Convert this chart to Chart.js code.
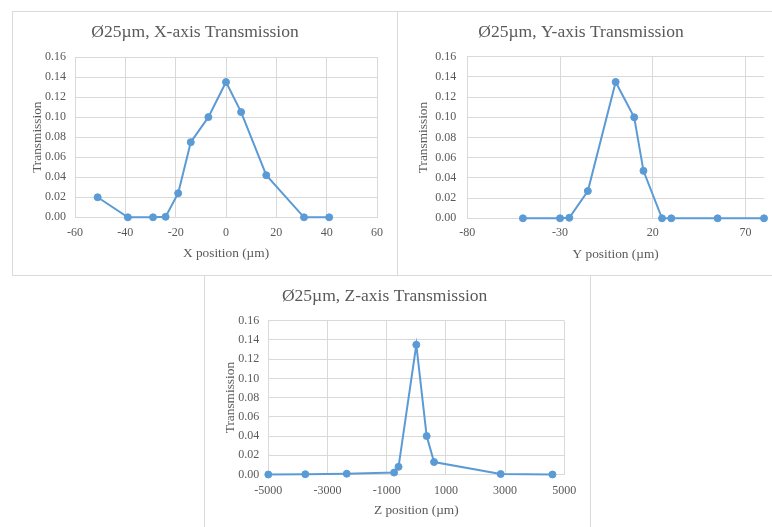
<!DOCTYPE html>
<html>
<head>
<meta charset="utf-8">
<script src="https://cdn.jsdelivr.net/npm/chart.js@4.4.1/dist/chart.umd.min.js"></script>
<style>
  html, body { margin: 0; padding: 0; background: #fff; overflow: hidden; width: 772px; height: 527px; }
  .box { position: absolute; border: 1px solid #d9d9d9; background: #fff; }
  .box canvas { display: block; }
</style>
</head>
<body>
<div class="box" style="left:12px;top:11px;width:384px;height:263px"><canvas id="chartX" width="384" height="263"></canvas></div>
<div class="box" style="left:397px;top:11px;width:386px;height:263px"><canvas id="chartY" width="386" height="263"></canvas></div>
<div class="box" style="left:204px;top:275px;width:385px;height:260px"><canvas id="chartZ" width="385" height="260"></canvas></div>
<script>
// X-axis scan
const xPos = [-51, -39, -29, -24, -19, -14, -7, 0, 6, 16, 31, 41];
const xTrans = [0.020, 0, 0, 0.0005, 0.024, 0.075, 0.100, 0.135, 0.105, 0.042, 0, 0];
const xTicks = [-60, -40, -20, 0, 20, 40, 60];

// Y-axis scan
const yPos = [-50, -30, -25, -15, 0, 10, 15, 25, 30, 55, 80];
const yTrans = [0, 0, 0.0005, 0.027, 0.135, 0.100, 0.047, 0, 0, 0, 0];
const yTicks = [-80, -30, 20, 70];

// Z-axis scan
const zPos = [-5000, -3750, -2350, -750, -600, 0, 350, 600, 2850, 4600];
const zTrans = [0, 0.0003, 0.0008, 0.002, 0.008, 0.135, 0.040, 0.013, 0.0005, 0];
const zTicks = [-5000, -3000, -1000, 1000, 3000, 5000];

const transTicks = [0, 0.02, 0.04, 0.06, 0.08, 0.10, 0.12, 0.14, 0.16];

const BLUE = '#5b9bd5';
const TXT = '#595959';
const GRID = '#d9d9d9';
const SERIF = '"Liberation Serif", "Times New Roman", serif';

function build(id, xs, ys, ticks, xMin, xMax, titleText, xTitle, L) {
    new Chart(document.getElementById(id), {
        type: 'scatter',
        data: {
            datasets: [{
                data: xs.map((x, i) => ({ x: x, y: ys[i] })),
                showLine: true,
                borderColor: BLUE,
                backgroundColor: BLUE,
                borderWidth: 2,
                pointRadius: 3.5,
                pointHoverRadius: 3.5,
                pointBorderWidth: 1,
                clip: false
            }]
        },
        options: {
            responsive: false,
            animation: false,
            events: [],
            layout: { padding: { left: 0, top: 0, right: L.right, bottom: 0 } },
            plugins: {
                legend: { display: false },
                tooltip: { enabled: false },
                title: {
                    display: true,
                    text: titleText,
                    color: TXT,
                    font: { family: SERIF, size: 17.5, weight: 'normal' },
                    padding: { top: 10, bottom: L.top - 31 }
                }
            },
            scales: {
                x: {
                    type: 'linear',
                    min: xMin,
                    max: xMax,
                    afterBuildTicks: s => { s.ticks = ticks.map(v => ({ value: v })); },
                    afterFit: s => { s.height = L.xH; },
                    grid: { color: GRID, drawTicks: false },
                    border: { color: GRID },
                    ticks: { color: TXT, font: { family: SERIF, size: 12 }, padding: L.xTickPad, maxRotation: 0, autoSkip: false, callback: v => String(v) },
                    title: { display: true, text: xTitle, color: TXT, font: { family: SERIF, size: 13.33 }, padding: { top: 0, bottom: L.xTitlePad } }
                },
                y: {
                    min: 0,
                    max: 0.16,
                    afterBuildTicks: s => { s.ticks = transTicks.map(v => ({ value: v })); },
                    afterFit: s => { s.width = L.yW; },
                    grid: { color: GRID, drawTicks: false },
                    border: { color: GRID },
                    ticks: { color: TXT, font: { family: SERIF, size: 12 }, padding: L.yTickPad, callback: v => v.toFixed(2) },
                    title: { display: true, text: 'Transmission', color: TXT, font: { family: SERIF, size: 13.33 }, padding: { top: L.yTitlePad, bottom: 0 } }
                }
            }
        }
    });
}

build('chartX', xPos, xTrans, xTicks, -60, 60, 'Ø25µm, X-axis Transmission', 'X position (µm)',
    { right: 20, top: 45, xH: 57.7, xTickPad: 8.8, xTitlePad: 13.7, yW: 62, yTickPad: 9, yTitlePad: 16 });
build('chartY', yPos, yTrans, yTicks, -80, 80, 'Ø25µm, Y-axis Transmission', 'Y position (µm)',
    { right: 20, top: 44.7, xH: 56.7, xTickPad: 7.8, xTitlePad: 13, yW: 69.3, yTickPad: 11, yTitlePad: 17 });
build('chartZ', zPos, zTrans, zTicks, -5000, 5000, 'Ø25µm, Z-axis Transmission', 'Z position (µm)',
    { right: 25.7, top: 44.7, xH: 61.5, xTickPad: 9, xTitlePad: 18, yW: 63.3, yTickPad: 9, yTitlePad: 17 });
</script>
</body>
</html>
